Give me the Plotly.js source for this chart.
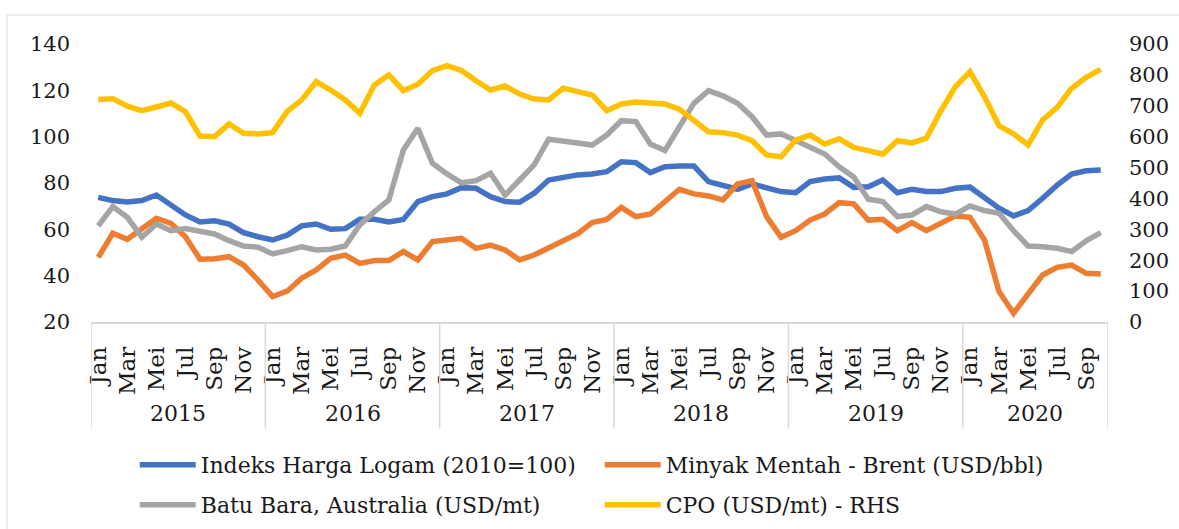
<!DOCTYPE html>
<html>
<head>
<meta charset="utf-8">
<script src="https://cdn.plot.ly/plotly-3.0.1.min.js"></script>
<style>html,body{margin:0;padding:0;background:#fff;}#chart{width:1179px;height:529px;}</style>
</head>
<body>
<div id="chart"></div>
<script>
// ---- data ----
const years = ['2015', '2016', '2017', '2018', '2019', '2020'];
const monthNames = ['Jan', 'Feb', 'Mar', 'Apr', 'Mei', 'Jun', 'Jul', 'Agu', 'Sep', 'Okt', 'Nov', 'Des'];
const monthsInYear = [12, 12, 12, 12, 12, 10];

const logam = [73.8, 72.4, 71.8, 72.4, 74.8, 70.5, 66.2, 63.2, 63.7, 62.3, 58.6, 56.8,
  55.4, 57.5, 61.5, 62.3, 60.0, 60.3, 64.3, 64.3, 63.2, 64.3, 72.0, 74.1,
  75.3, 78.0, 77.7, 74.1, 72.0, 71.7, 75.6, 81.3, 82.3, 83.5, 83.9, 84.9,
  89.2, 88.8, 84.5, 87.0, 87.3, 87.3, 80.6, 78.7, 77.3, 79.6, 77.7, 76.3,
  75.8, 80.6, 81.7, 82.2, 78.1, 78.4, 81.3, 75.8, 77.3, 76.3, 76.3, 77.7,
  78.2, 73.4, 69.1, 65.8, 68.1, 73.4, 79.1, 83.9, 85.3, 85.6];

const brent = [47.9, 58.3, 55.7, 60.5, 64.8, 62.6, 56.8, 47.1, 47.3, 48.2, 44.6, 38.1,
  31.0, 33.3, 38.9, 42.5, 47.5, 48.9, 45.3, 46.5, 46.5, 50.4, 46.8, 54.7,
  55.4, 56.1, 51.8, 53.2, 51.1, 46.8, 48.9, 51.8, 55.0, 58.1, 62.9, 64.3,
  69.5, 65.5, 66.6, 72.0, 77.3, 75.3, 74.4, 72.7, 79.6, 81.0, 65.5, 56.6,
  59.4, 64.0, 66.6, 71.5, 71.0, 64.0, 64.3, 59.4, 62.9, 59.4, 62.9, 65.8,
  65.2, 55.4, 33.1, 23.8, 32.1, 40.3, 43.6, 44.6, 41.0, 40.7];

const batubara = [61.5, 69.8, 65.2, 56.6, 62.3, 59.4, 60.3, 59.4, 58.0, 55.1, 52.8, 52.3,
  49.4, 50.8, 52.5, 51.1, 51.4, 52.8, 61.9, 67.6, 72.7, 94.3, 103.6, 88.5,
  83.9, 80.1, 81.0, 84.2, 74.8, 81.3, 87.8, 98.9, 98.3, 97.3, 96.4, 100.7,
  106.9, 106.5, 96.8, 94.0, 104.3, 114.4, 119.9, 117.6, 114.4, 108.6, 100.7, 101.2,
  98.3, 95.4, 92.5, 87.0, 82.6, 73.0, 72.0, 65.5, 66.2, 69.8, 67.6, 66.6,
  70.1, 68.1, 66.9, 59.4, 52.8, 52.5, 51.8, 50.4, 55.1, 58.6];

const cpo = [720, 723, 699, 684, 696, 709, 681, 602, 600, 641, 611, 609,
  613, 682, 719, 778, 751, 719, 676, 767, 800, 749, 770, 814,
  830, 814, 781, 751, 764, 738, 722, 719, 757, 747, 735, 684,
  706, 712, 710, 706, 689, 654, 616, 613, 605, 587, 541, 535,
  589, 605, 576, 593, 565, 555, 543, 587, 580, 595, 684, 762,
  810, 729, 635, 609, 573, 654, 695, 757, 792, 818];

const seriesNames = ['Indeks Harga Logam (2010=100)', 'Minyak Mentah - Brent (USD/bbl)',
  'Batu Bara, Australia (USD/mt)', 'CPO (USD/mt) - RHS'];

// ---- build categories ----
const cats = [], tickvals = [], ticktext = [];
const yearMid = [], yearBounds = [-0.5];
let idx = 0;
years.forEach((y, yi) => {
  const start = idx;
  for (let m = 0; m < monthsInYear[yi]; m++) {
    const c = monthNames[m] + ' ' + y;
    cats.push(c);
    if (m % 2 === 0) { tickvals.push(c); ticktext.push(monthNames[m]); }
    idx++;
  }
  yearMid.push((start + idx - 1) / 2);
  yearBounds.push(idx - 0.5);
});

const FONT = 'DejaVu Serif';
const traces = [
  {x: cats, y: logam, name: seriesNames[0], type: 'scatter', mode: 'lines',
   line: {color: '#4472C4', width: 5.5}, legend: 'legend'},
  {x: cats, y: brent, name: seriesNames[1], type: 'scatter', mode: 'lines',
   line: {color: '#ED7D31', width: 5.5}, legend: 'legend'},
  {x: cats, y: batubara, name: seriesNames[2], type: 'scatter', mode: 'lines',
   line: {color: '#A5A5A5', width: 5.5}, legend: 'legend2'},
  {x: cats, y: cpo, name: seriesNames[3], type: 'scatter', mode: 'lines', yaxis: 'y2',
   line: {color: '#FFC000', width: 5.5}, legend: 'legend2'}
];

const annotations = years.map((y, i) => ({
  x: yearMid[i], y: -0.33, xref: 'x', yref: 'paper', text: y, showarrow: false,
  font: {family: FONT, size: 22, color: '#1a1a1a'}, xanchor: 'center', yanchor: 'middle'
}));

const shapes = yearBounds.map(b => ({
  type: 'line', xref: 'x', yref: 'paper', x0: b, x1: b, y0: 0, y1: -0.383,
  line: {color: '#d9d9d9', width: 1.5}
}));
shapes.push({type: 'rect', xref: 'paper', yref: 'paper', x0: -0.0826, x1: 1.2, y0: -1, y1: 1.1043,
  line: {color: '#e6e6e6', width: 1.5}, fillcolor: 'rgba(0,0,0,0)', layer: 'below'});

const legendCommon = {
  orientation: 'h', xanchor: 'left', yanchor: 'middle', x: 0.043,
  font: {family: FONT, size: 22, color: '#1a1a1a'},
  entrywidth: 394, entrywidthmode: 'pixels', itemwidth: 56,
  bgcolor: 'rgba(0,0,0,0)', borderwidth: 0
};

const layout = {
  width: 1179, height: 529,
  margin: {l: 91, r: 71, t: 44, b: 207, pad: 0, autoexpand: false},
  paper_bgcolor: '#ffffff', plot_bgcolor: '#ffffff',
  font: {family: FONT, color: '#1a1a1a'},
  showlegend: true,
  xaxis: {
    type: 'category', categoryorder: 'array', categoryarray: cats,
    range: [-0.5, cats.length - 0.5], automargin: false,
    tickmode: 'array', tickvals: tickvals, ticktext: ticktext, tickangle: -90,
    tickfont: {family: FONT, size: 23, color: '#1a1a1a'},
    showline: true, linecolor: '#d9d9d9', linewidth: 1.5, ticks: '',
    showgrid: false, zeroline: false, ticklabelstandoff: 14, fixedrange: true
  },
  yaxis: {
    range: [20, 140], dtick: 20, tick0: 0, showgrid: false, zeroline: false, showline: false,
    automargin: false,
    ticks: '', tickfont: {family: FONT, size: 21, color: '#1a1a1a'}, ticklabelstandoff: 20
  },
  yaxis2: {
    range: [0, 900], dtick: 100, tick0: 0, overlaying: 'y', side: 'right',
    showgrid: false, zeroline: false, showline: false, ticks: '', automargin: false,
    tickfont: {family: FONT, size: 21, color: '#1a1a1a'}, ticklabelstandoff: 20
  },
  legend: Object.assign({}, legendCommon, {y: -0.514}),
  legend2: Object.assign({}, legendCommon, {y: -0.658}),
  annotations: annotations,
  shapes: shapes
};

Plotly.newPlot('chart', traces, layout, {displayModeBar: false, staticPlot: true});
</script>
</body>
</html>
